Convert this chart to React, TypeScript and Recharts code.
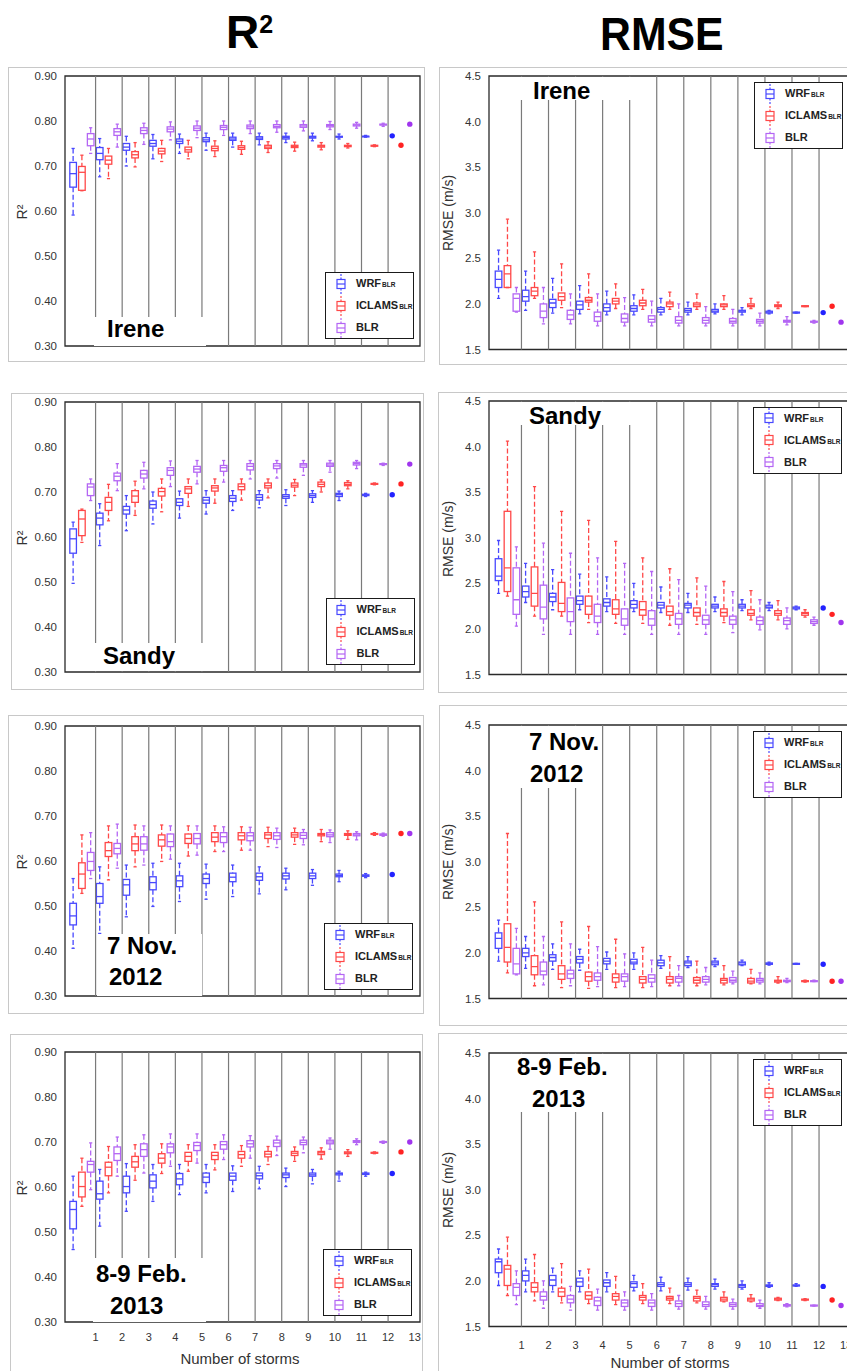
import React from 'react';
import { ComposedChart, Bar, XAxis, YAxis, ReferenceLine, ReferenceArea } from 'recharts';

type Stat = number[]; // [min, q1, median, q3, max]

const FONT = "'Liberation Sans', Arial, sans-serif";

// ---------- categories / ticks ----------
const SERIES_NAMES = ['WRF', 'ICLAMS', 'BLR'];
const SERIES_SUBS = ['BLR', 'BLR', ''];
const STORM_TICKS = [1, 2, 3, 4, 5, 6, 7, 8, 9, 10, 11, 12, 13];
const GROUP_DIVIDERS = [1, 2, 3, 4, 5, 6, 7, 8, 9, 10, 11, 12];
const R2_TICKS = [0.3, 0.4, 0.5, 0.6, 0.7, 0.8, 0.9];
const R2_MINOR = [0.30, 0.32, 0.34, 0.36, 0.38, 0.40, 0.42, 0.44, 0.46, 0.48, 0.50, 0.52, 0.54, 0.56, 0.58, 0.60, 0.62, 0.64, 0.66, 0.68, 0.70, 0.72, 0.74, 0.76, 0.78, 0.80, 0.82, 0.84, 0.86, 0.88, 0.90];
const RMSE_TICKS = [1.5, 2.0, 2.5, 3.0, 3.5, 4.0, 4.5];
const RMSE_MINOR = [1.5, 1.6, 1.7, 1.8, 1.9, 2.0, 2.1, 2.2, 2.3, 2.4, 2.5, 2.6, 2.7, 2.8, 2.9, 3.0, 3.1, 3.2, 3.3, 3.4, 3.5, 3.6, 3.7, 3.8, 3.9, 4.0, 4.1, 4.2, 4.3, 4.4, 4.5];

// ---------- data: [min, q1, median, q3, max] per storm-count group ----------
const IRENE_R2_WRF: Stat[] = [
  [0.591, 0.653, 0.683, 0.708, 0.739], [0.676, 0.714, 0.728, 0.741, 0.761], [0.700, 0.735, 0.742, 0.750, 0.766],
  [0.716, 0.744, 0.750, 0.757, 0.770], [0.728, 0.750, 0.755, 0.760, 0.771], [0.735, 0.754, 0.758, 0.763, 0.773],
  [0.742, 0.757, 0.760, 0.764, 0.773], [0.747, 0.759, 0.762, 0.765, 0.773], [0.752, 0.760, 0.763, 0.766, 0.773],
  [0.756, 0.762, 0.764, 0.766, 0.773], [0.760, 0.764, 0.765, 0.766, 0.771], [0.764, 0.765, 0.766, 0.766, 0.768],
  [0.767, 0.767, 0.767, 0.767, 0.767],
];
const IRENE_R2_ICLAMS: Stat[] = [
  [0.645, 0.646, 0.686, 0.699, 0.724], [0.672, 0.704, 0.713, 0.722, 0.739], [0.698, 0.718, 0.725, 0.732, 0.752],
  [0.710, 0.727, 0.733, 0.739, 0.757], [0.716, 0.731, 0.736, 0.742, 0.757], [0.721, 0.734, 0.739, 0.744, 0.756],
  [0.726, 0.737, 0.741, 0.745, 0.755], [0.730, 0.739, 0.742, 0.746, 0.754], [0.733, 0.741, 0.743, 0.746, 0.753],
  [0.736, 0.742, 0.744, 0.746, 0.752], [0.740, 0.743, 0.745, 0.746, 0.750], [0.743, 0.744, 0.745, 0.746, 0.747],
  [0.746, 0.746, 0.746, 0.746, 0.746],
];
const IRENE_R2_BLR: Stat[] = [
  [0.728, 0.745, 0.760, 0.772, 0.785], [0.742, 0.768, 0.776, 0.783, 0.793], [0.748, 0.772, 0.779, 0.785, 0.795],
  [0.758, 0.776, 0.782, 0.787, 0.798], [0.763, 0.779, 0.784, 0.789, 0.800], [0.768, 0.781, 0.786, 0.790, 0.800],
  [0.772, 0.783, 0.787, 0.791, 0.800], [0.775, 0.785, 0.788, 0.792, 0.800], [0.778, 0.786, 0.789, 0.792, 0.800],
  [0.781, 0.787, 0.790, 0.792, 0.799], [0.784, 0.789, 0.791, 0.793, 0.797], [0.788, 0.791, 0.792, 0.793, 0.795],
  [0.793, 0.793, 0.793, 0.793, 0.793],
];

const SANDY_R2_WRF: Stat[] = [
  [0.497, 0.564, 0.596, 0.618, 0.633], [0.581, 0.627, 0.642, 0.653, 0.674], [0.614, 0.651, 0.660, 0.668, 0.692],
  [0.629, 0.664, 0.672, 0.680, 0.700], [0.642, 0.670, 0.677, 0.685, 0.702], [0.651, 0.675, 0.682, 0.688, 0.703],
  [0.659, 0.679, 0.686, 0.692, 0.703], [0.665, 0.682, 0.688, 0.694, 0.703], [0.670, 0.686, 0.690, 0.694, 0.705],
  [0.677, 0.688, 0.692, 0.696, 0.703], [0.681, 0.690, 0.694, 0.697, 0.702], [0.690, 0.692, 0.694, 0.695, 0.697],
  [0.694, 0.694, 0.694, 0.694, 0.694],
];
const SANDY_R2_ICLAMS: Stat[] = [
  [0.588, 0.603, 0.640, 0.659, 0.662], [0.636, 0.659, 0.677, 0.688, 0.717], [0.648, 0.677, 0.691, 0.703, 0.724],
  [0.656, 0.691, 0.701, 0.708, 0.729], [0.668, 0.697, 0.707, 0.712, 0.729], [0.675, 0.702, 0.709, 0.714, 0.729],
  [0.682, 0.705, 0.712, 0.718, 0.729], [0.687, 0.709, 0.714, 0.720, 0.729], [0.692, 0.711, 0.715, 0.720, 0.728],
  [0.700, 0.712, 0.717, 0.722, 0.727], [0.707, 0.714, 0.717, 0.721, 0.725], [0.716, 0.717, 0.718, 0.719, 0.720],
  [0.718, 0.718, 0.718, 0.718, 0.718],
];
const SANDY_R2_BLR: Stat[] = [
  [0.681, 0.692, 0.711, 0.718, 0.729], [0.703, 0.725, 0.735, 0.742, 0.763], [0.707, 0.731, 0.740, 0.748, 0.766],
  [0.712, 0.737, 0.748, 0.754, 0.769], [0.718, 0.744, 0.751, 0.757, 0.770], [0.722, 0.746, 0.754, 0.759, 0.770],
  [0.729, 0.749, 0.757, 0.763, 0.770], [0.731, 0.752, 0.758, 0.763, 0.770], [0.737, 0.755, 0.760, 0.763, 0.770],
  [0.744, 0.757, 0.760, 0.764, 0.770], [0.752, 0.760, 0.763, 0.766, 0.770], [0.759, 0.761, 0.762, 0.763, 0.764],
  [0.762, 0.762, 0.762, 0.762, 0.762],
];

const NOV_R2_WRF: Stat[] = [
  [0.406, 0.458, 0.478, 0.506, 0.561], [0.439, 0.506, 0.521, 0.550, 0.587], [0.476, 0.524, 0.547, 0.559, 0.591],
  [0.499, 0.536, 0.552, 0.565, 0.595], [0.510, 0.543, 0.556, 0.567, 0.595], [0.515, 0.550, 0.561, 0.571, 0.593],
  [0.521, 0.554, 0.564, 0.573, 0.591], [0.527, 0.557, 0.565, 0.573, 0.587], [0.536, 0.560, 0.567, 0.573, 0.584],
  [0.546, 0.561, 0.567, 0.573, 0.581], [0.554, 0.565, 0.568, 0.571, 0.579], [0.563, 0.566, 0.568, 0.569, 0.572],
  [0.570, 0.570, 0.570, 0.570, 0.570],
];
const NOV_R2_ICLAMS: Stat[] = [
  [0.528, 0.539, 0.571, 0.596, 0.658], [0.558, 0.610, 0.623, 0.641, 0.678], [0.587, 0.623, 0.638, 0.654, 0.680],
  [0.599, 0.633, 0.647, 0.658, 0.680], [0.611, 0.639, 0.650, 0.660, 0.678], [0.621, 0.643, 0.653, 0.663, 0.678],
  [0.624, 0.647, 0.656, 0.663, 0.676], [0.632, 0.650, 0.658, 0.663, 0.675], [0.637, 0.653, 0.658, 0.663, 0.673],
  [0.643, 0.656, 0.659, 0.661, 0.670], [0.648, 0.657, 0.659, 0.661, 0.667], [0.657, 0.659, 0.660, 0.661, 0.663],
  [0.661, 0.661, 0.661, 0.661, 0.661],
];
const NOV_R2_BLR: Stat[] = [
  [0.561, 0.579, 0.599, 0.619, 0.663], [0.584, 0.616, 0.628, 0.639, 0.682], [0.591, 0.624, 0.638, 0.654, 0.678],
  [0.604, 0.632, 0.643, 0.660, 0.678], [0.613, 0.638, 0.650, 0.661, 0.678], [0.621, 0.641, 0.654, 0.663, 0.676],
  [0.624, 0.645, 0.656, 0.663, 0.675], [0.630, 0.648, 0.656, 0.663, 0.673], [0.636, 0.650, 0.657, 0.663, 0.670],
  [0.641, 0.654, 0.658, 0.663, 0.669], [0.647, 0.656, 0.658, 0.661, 0.665], [0.655, 0.657, 0.659, 0.660, 0.662],
  [0.661, 0.661, 0.661, 0.661, 0.661],
];

const FEB_R2_WRF: Stat[] = [
  [0.461, 0.507, 0.550, 0.568, 0.624], [0.513, 0.573, 0.585, 0.613, 0.639], [0.546, 0.587, 0.601, 0.624, 0.652],
  [0.568, 0.598, 0.613, 0.627, 0.650], [0.583, 0.605, 0.618, 0.630, 0.650], [0.587, 0.610, 0.622, 0.631, 0.650],
  [0.590, 0.615, 0.624, 0.631, 0.647], [0.596, 0.618, 0.625, 0.631, 0.646], [0.601, 0.621, 0.627, 0.631, 0.642],
  [0.607, 0.624, 0.627, 0.631, 0.639], [0.613, 0.627, 0.630, 0.631, 0.635], [0.624, 0.628, 0.629, 0.631, 0.633],
  [0.630, 0.630, 0.630, 0.630, 0.630],
];
const FEB_R2_ICLAMS: Stat[] = [
  [0.557, 0.578, 0.601, 0.633, 0.664], [0.587, 0.625, 0.644, 0.655, 0.690], [0.615, 0.644, 0.656, 0.668, 0.694],
  [0.630, 0.653, 0.664, 0.674, 0.696], [0.635, 0.657, 0.668, 0.677, 0.694], [0.638, 0.661, 0.670, 0.677, 0.694],
  [0.646, 0.664, 0.672, 0.679, 0.692], [0.650, 0.667, 0.673, 0.679, 0.690], [0.657, 0.670, 0.675, 0.679, 0.689],
  [0.662, 0.672, 0.676, 0.679, 0.687], [0.668, 0.674, 0.676, 0.678, 0.683], [0.674, 0.675, 0.676, 0.677, 0.678],
  [0.678, 0.678, 0.678, 0.678, 0.678],
];
const FEB_R2_BLR: Stat[] = [
  [0.594, 0.633, 0.650, 0.657, 0.698], [0.624, 0.659, 0.674, 0.689, 0.711], [0.631, 0.668, 0.683, 0.696, 0.716],
  [0.646, 0.676, 0.689, 0.696, 0.718], [0.653, 0.681, 0.692, 0.699, 0.718], [0.661, 0.684, 0.694, 0.701, 0.716],
  [0.664, 0.689, 0.696, 0.703, 0.714], [0.670, 0.690, 0.698, 0.704, 0.713], [0.676, 0.694, 0.699, 0.704, 0.711],
  [0.684, 0.696, 0.700, 0.704, 0.709], [0.694, 0.699, 0.701, 0.703, 0.707], [0.697, 0.699, 0.700, 0.701, 0.702],
  [0.700, 0.700, 0.700, 0.700, 0.700],
];

const IRENE_RMSE_WRF: Stat[] = [
  [2.06, 2.18, 2.27, 2.36, 2.59], [1.93, 2.03, 2.08, 2.15, 2.36], [1.90, 1.96, 2.01, 2.05, 2.28],
  [1.89, 1.94, 1.99, 2.03, 2.20], [1.88, 1.92, 1.96, 2.00, 2.14], [1.88, 1.92, 1.95, 1.98, 2.10],
  [1.88, 1.91, 1.94, 1.96, 2.06], [1.88, 1.91, 1.93, 1.95, 2.02], [1.89, 1.91, 1.92, 1.94, 2.00],
  [1.88, 1.91, 1.92, 1.93, 1.96], [1.89, 1.90, 1.91, 1.92, 1.93], [1.90, 1.90, 1.905, 1.91, 1.91],
  [1.905, 1.905, 1.905, 1.905, 1.905],
];
const IRENE_RMSE_ICLAMS: Stat[] = [
  [2.18, 2.18, 2.33, 2.42, 2.93], [2.06, 2.09, 2.14, 2.18, 2.57], [1.96, 2.04, 2.08, 2.12, 2.44],
  [1.94, 2.02, 2.04, 2.07, 2.33], [1.95, 2.00, 2.03, 2.06, 2.22], [1.94, 1.98, 2.01, 2.04, 2.16],
  [1.94, 1.97, 2.00, 2.02, 2.13], [1.94, 1.97, 1.99, 2.01, 2.11], [1.94, 1.97, 1.99, 2.00, 2.09],
  [1.95, 1.97, 1.98, 2.00, 2.06], [1.95, 1.97, 1.98, 1.99, 2.02], [1.97, 1.97, 1.975, 1.98, 1.98],
  [1.975, 1.975, 1.975, 1.975, 1.975],
];
const IRENE_RMSE_BLR: Stat[] = [
  [1.91, 1.92, 2.06, 2.11, 2.18], [1.78, 1.85, 1.92, 2.00, 2.18], [1.78, 1.83, 1.88, 1.93, 2.11],
  [1.76, 1.81, 1.86, 1.91, 2.11], [1.76, 1.80, 1.84, 1.89, 2.07], [1.76, 1.80, 1.83, 1.87, 2.03],
  [1.76, 1.79, 1.82, 1.86, 2.00], [1.76, 1.79, 1.82, 1.85, 1.97], [1.76, 1.79, 1.81, 1.84, 1.94],
  [1.76, 1.79, 1.81, 1.83, 1.90], [1.77, 1.80, 1.81, 1.82, 1.86], [1.79, 1.80, 1.80, 1.81, 1.82],
  [1.80, 1.80, 1.80, 1.80, 1.80],
];

const SANDY_RMSE_WRF: Stat[] = [
  [2.39, 2.53, 2.58, 2.77, 2.97], [2.29, 2.35, 2.41, 2.47, 2.72], [2.21, 2.30, 2.35, 2.39, 2.65],
  [2.21, 2.27, 2.31, 2.36, 2.60], [2.19, 2.25, 2.29, 2.33, 2.57], [2.19, 2.23, 2.27, 2.31, 2.50],
  [2.18, 2.23, 2.26, 2.29, 2.46], [2.18, 2.23, 2.26, 2.28, 2.39], [2.19, 2.23, 2.25, 2.27, 2.35],
  [2.20, 2.23, 2.25, 2.27, 2.32], [2.20, 2.23, 2.24, 2.26, 2.29], [2.21, 2.22, 2.23, 2.24, 2.25],
  [2.23, 2.23, 2.23, 2.23, 2.23],
];
const SANDY_RMSE_ICLAMS: Stat[] = [
  [2.36, 2.41, 2.67, 3.29, 4.06], [2.14, 2.25, 2.39, 2.68, 3.56], [2.14, 2.19, 2.28, 2.51, 3.29],
  [2.07, 2.16, 2.25, 2.36, 3.19], [2.06, 2.16, 2.22, 2.32, 2.96], [2.06, 2.15, 2.21, 2.30, 2.78],
  [2.04, 2.15, 2.19, 2.25, 2.66], [2.05, 2.14, 2.18, 2.23, 2.56], [2.07, 2.14, 2.18, 2.22, 2.52],
  [2.10, 2.15, 2.17, 2.21, 2.42], [2.10, 2.15, 2.17, 2.20, 2.31], [2.13, 2.15, 2.17, 2.18, 2.21],
  [2.16, 2.16, 2.16, 2.16, 2.16],
];
const SANDY_RMSE_BLR: Stat[] = [
  [2.03, 2.16, 2.32, 2.67, 2.90], [1.94, 2.11, 2.24, 2.48, 2.94], [1.94, 2.08, 2.19, 2.34, 2.83],
  [1.94, 2.07, 2.14, 2.27, 2.78], [1.94, 2.04, 2.11, 2.22, 2.72], [1.94, 2.04, 2.11, 2.20, 2.63],
  [1.94, 2.05, 2.11, 2.17, 2.54], [1.94, 2.05, 2.10, 2.15, 2.47], [1.96, 2.05, 2.10, 2.14, 2.41],
  [1.99, 2.05, 2.09, 2.13, 2.32], [2.00, 2.05, 2.09, 2.12, 2.23], [2.04, 2.06, 2.08, 2.10, 2.13],
  [2.07, 2.07, 2.07, 2.07, 2.07],
];

const NOV_RMSE_WRF: Stat[] = [
  [1.91, 2.05, 2.16, 2.22, 2.36], [1.83, 1.96, 2.00, 2.05, 2.18], [1.82, 1.91, 1.95, 1.98, 2.10],
  [1.81, 1.89, 1.93, 1.96, 2.04], [1.82, 1.88, 1.91, 1.94, 2.01], [1.82, 1.88, 1.90, 1.93, 2.00],
  [1.83, 1.86, 1.89, 1.92, 1.97], [1.84, 1.86, 1.89, 1.91, 1.96], [1.85, 1.87, 1.89, 1.91, 1.94],
  [1.86, 1.87, 1.89, 1.90, 1.92], [1.865, 1.875, 1.88, 1.89, 1.90], [1.875, 1.875, 1.88, 1.885, 1.885],
  [1.875, 1.875, 1.875, 1.875, 1.875],
];
const NOV_RMSE_ICLAMS: Stat[] = [
  [1.78, 1.90, 2.06, 2.32, 3.31], [1.64, 1.76, 1.85, 1.97, 2.56], [1.62, 1.71, 1.77, 1.86, 2.34],
  [1.61, 1.69, 1.74, 1.79, 2.29], [1.62, 1.68, 1.73, 1.77, 2.15], [1.62, 1.67, 1.71, 1.74, 2.06],
  [1.64, 1.67, 1.71, 1.74, 1.96], [1.64, 1.67, 1.70, 1.73, 1.91], [1.65, 1.67, 1.70, 1.72, 1.86],
  [1.66, 1.67, 1.69, 1.72, 1.82], [1.67, 1.68, 1.69, 1.70, 1.74], [1.68, 1.685, 1.69, 1.695, 1.70],
  [1.69, 1.69, 1.69, 1.69, 1.69],
];
const NOV_RMSE_BLR: Stat[] = [
  [1.76, 1.77, 1.88, 2.05, 2.27], [1.65, 1.76, 1.80, 1.90, 2.18], [1.64, 1.72, 1.77, 1.81, 2.10],
  [1.63, 1.70, 1.74, 1.78, 2.07], [1.63, 1.69, 1.74, 1.77, 1.99], [1.63, 1.68, 1.72, 1.76, 1.92],
  [1.64, 1.68, 1.72, 1.74, 1.86], [1.65, 1.68, 1.71, 1.74, 1.84], [1.66, 1.68, 1.70, 1.73, 1.80],
  [1.66, 1.68, 1.70, 1.72, 1.78], [1.675, 1.685, 1.69, 1.70, 1.72], [1.685, 1.685, 1.69, 1.695, 1.70],
  [1.69, 1.69, 1.69, 1.69, 1.69],
];

const FEB_RMSE_WRF: Stat[] = [
  [1.95, 2.09, 2.21, 2.24, 2.35], [1.88, 2.00, 2.06, 2.11, 2.24], [1.88, 1.95, 2.01, 2.06, 2.14],
  [1.88, 1.94, 1.99, 2.03, 2.11], [1.88, 1.94, 1.98, 2.01, 2.09], [1.89, 1.93, 1.97, 1.99, 2.06],
  [1.89, 1.94, 1.96, 1.98, 2.04], [1.90, 1.94, 1.96, 1.98, 2.03], [1.91, 1.94, 1.96, 1.97, 2.02],
  [1.91, 1.93, 1.95, 1.96, 2.00], [1.93, 1.94, 1.95, 1.955, 1.98], [1.94, 1.945, 1.95, 1.955, 1.97],
  [1.94, 1.94, 1.94, 1.94, 1.94],
];
const FEB_RMSE_ICLAMS: Stat[] = [
  [1.84, 1.95, 2.13, 2.17, 2.48], [1.78, 1.88, 1.93, 1.98, 2.29], [1.76, 1.83, 1.88, 1.92, 2.19],
  [1.75, 1.80, 1.84, 1.88, 2.13], [1.74, 1.79, 1.83, 1.86, 2.05], [1.75, 1.79, 1.82, 1.84, 1.97],
  [1.75, 1.79, 1.81, 1.83, 1.92], [1.76, 1.78, 1.81, 1.83, 1.90], [1.77, 1.78, 1.80, 1.82, 1.88],
  [1.77, 1.78, 1.80, 1.81, 1.85], [1.785, 1.79, 1.80, 1.81, 1.82], [1.785, 1.79, 1.795, 1.80, 1.805],
  [1.79, 1.79, 1.79, 1.79, 1.79],
];
const FEB_RMSE_BLR: Stat[] = [
  [1.74, 1.84, 1.93, 1.97, 2.11], [1.70, 1.79, 1.83, 1.88, 2.00], [1.68, 1.76, 1.80, 1.84, 1.94],
  [1.68, 1.73, 1.78, 1.82, 1.91], [1.68, 1.72, 1.76, 1.79, 1.88], [1.68, 1.72, 1.76, 1.79, 1.86],
  [1.69, 1.72, 1.75, 1.78, 1.84], [1.69, 1.72, 1.74, 1.77, 1.83], [1.69, 1.72, 1.74, 1.76, 1.80],
  [1.70, 1.72, 1.73, 1.75, 1.79], [1.715, 1.725, 1.73, 1.74, 1.75], [1.725, 1.725, 1.73, 1.735, 1.735],
  [1.73, 1.73, 1.73, 1.73, 1.73],
];

// ---------- styling / layout ----------
const SERIES_OFFSET = [0.17, 0.5, 0.83];
const BOX_STROKE = ['#4848ff', '#ff4848', '#b466f4'];
const DOT_FILL = ['#2222ff', '#ff2222', '#a035ee'];
const AXIS_W = 50;
const MT = 5;
const MR = 5;
const XH = 30;

const METRICS: Record<string, any> = {
  r2: { domain: [0.3, 0.9], ticks: R2_TICKS, minor: R2_MINOR, digits: 2, title: 'R²' },
  rmse: { domain: [1.5, 4.5], ticks: RMSE_TICKS, minor: RMSE_MINOR, digits: 1, title: 'RMSE (m/s)' },
};

type Line = { text: string; x: number; y: number };
type PanelCfg = {
  key: string; metric: 'r2' | 'rmse'; series: Stat[][];
  plotLeft: number; plotTop: number; plotW: number; plotH: number; xDomain: number[];
  showX: boolean; tickMargin: number; xTitle?: number[];
  frame: number[]; legend: number[]; yTitleX: number;
  labelBox: number[]; labelLines: Line[];
};

const LEFT = { plotLeft: 65, plotW: 355, plotH: 270, xDomain: [-0.15, 13.2], yTitleX: 21.5 };
const RIGHT = { plotLeft: 488.5, plotW: 362.5, plotH: 273.5, xDomain: [-0.2, 13.2], yTitleX: 448 };

const PANELS: PanelCfg[] = [
  { key: 'irene-r2', metric: 'r2', series: [IRENE_R2_WRF, IRENE_R2_ICLAMS, IRENE_R2_BLR], ...LEFT, plotTop: 76,
    showX: false, tickMargin: 11, frame: [8, 67, 425, 362], legend: [325, 272],
    labelBox: [94, 317, 112, 28.5], labelLines: [{ text: 'Irene', x: 107, y: 320 }] },
  { key: 'sandy-r2', metric: 'r2', series: [SANDY_R2_WRF, SANDY_R2_ICLAMS, SANDY_R2_BLR], ...LEFT, plotTop: 401.5,
    showX: false, tickMargin: 11, frame: [11, 393, 424, 690], legend: [325.5, 598],
    labelBox: [94, 643, 112, 27.5], labelLines: [{ text: 'Sandy', x: 103, y: 647 }] },
  { key: 'nov-r2', metric: 'r2', series: [NOV_R2_WRF, NOV_R2_ICLAMS, NOV_R2_BLR], ...LEFT, plotTop: 726,
    showX: false, tickMargin: 11, frame: [8, 715, 424, 1014], legend: [324, 923],
    labelBox: [97, 934, 105, 61.5], labelLines: [{ text: '7 Nov.', x: 107, y: 937 }, { text: '2012', x: 109, y: 968 }] },
  { key: 'feb-r2', metric: 'r2', series: [FEB_R2_WRF, FEB_R2_ICLAMS, FEB_R2_BLR], ...LEFT, plotTop: 1052.3,
    showX: true, tickMargin: 11, xTitle: [240, 1358], frame: [10, 1034, 423, 1400], legend: [323, 1249],
    labelBox: [93, 1258, 113, 63.5], labelLines: [{ text: '8-9 Feb.', x: 96, y: 1265 }, { text: '2013', x: 110, y: 1297 }] },
  { key: 'irene-rmse', metric: 'rmse', series: [IRENE_RMSE_WRF, IRENE_RMSE_ICLAMS, IRENE_RMSE_BLR], ...RIGHT, plotTop: 75.7,
    showX: false, tickMargin: 15, frame: [439, 67, 900, 365], legend: [754, 82.3],
    labelBox: [519, 76.5, 114, 23.5], labelLines: [{ text: 'Irene', x: 533, y: 82 }] },
  { key: 'sandy-rmse', metric: 'rmse', series: [SANDY_RMSE_WRF, SANDY_RMSE_ICLAMS, SANDY_RMSE_BLR], ...RIGHT, plotTop: 400.8,
    showX: false, tickMargin: 15, frame: [438, 392, 900, 693], legend: [753, 406.7],
    labelBox: [519, 401.5, 114, 23], labelLines: [{ text: 'Sandy', x: 529, y: 407 }] },
  { key: 'nov-rmse', metric: 'rmse', series: [NOV_RMSE_WRF, NOV_RMSE_ICLAMS, NOV_RMSE_BLR], ...RIGHT, plotTop: 724.5,
    showX: false, tickMargin: 15, frame: [438.5, 705, 900, 1026], legend: [753, 731],
    labelBox: [519, 725.5, 83, 62], labelLines: [{ text: '7 Nov.', x: 529, y: 733 }, { text: '2012', x: 530, y: 765 }] },
  { key: 'feb-rmse', metric: 'rmse', series: [FEB_RMSE_WRF, FEB_RMSE_ICLAMS, FEB_RMSE_BLR], ...RIGHT, plotTop: 1052.6,
    showX: true, tickMargin: 15, xTitle: [670, 1362], frame: [437.5, 1033, 900, 1400], legend: [753, 1059],
    labelBox: [512, 1053.5, 96, 58], labelLines: [{ text: '8-9 Feb.', x: 517, y: 1058 }, { text: '2013', x: 532, y: 1090 }] },
];

function buildRows(series: Stat[][]) {
  const rows: any[] = [];
  series.forEach((stats, s) => {
    stats.forEach((st, g) => {
      rows.push({ x: g + SERIES_OFFSET[s], s, min: st[0], q1: st[1], med: st[2], q3: st[3], max: st[4] });
    });
  });
  return rows;
}

const rangeKey = (r: any) => [r.min, r.max];

function BoxShape(props: any) {
  const { x, y, width, height, payload } = props;
  if (!payload || x == null || y == null || isNaN(x) || isNaN(y)) return <g />;
  const cx = x + (width || 0) / 2;
  const h = height || 0;
  const top = Math.min(y, y + h);
  const bottom = Math.max(y, y + h);
  const span = payload.max - payload.min;
  const s = payload.s;
  if (!(span > 0)) {
    return <circle cx={cx} cy={top} r={2.7} fill={DOT_FILL[s]} />;
  }
  const py = (v: number) => top + ((payload.max - v) / span) * (bottom - top);
  const hw = 3.3;
  const cap = 1.6;
  const yMax = py(payload.max);
  const yQ3 = py(payload.q3);
  const yMed = py(payload.med);
  const yQ1 = py(payload.q1);
  const yMin = py(payload.min);
  return (
    <g stroke={BOX_STROKE[s]} strokeWidth={1.3} fill="none">
      {yQ3 - yMax > 0.6 && <line x1={cx} x2={cx} y1={yMax} y2={yQ3} strokeDasharray="5 2.5" />}
      {yMin - yQ1 > 0.6 && <line x1={cx} x2={cx} y1={yQ1} y2={yMin} strokeDasharray="5 2.5" />}
      <line x1={cx - cap} x2={cx + cap} y1={yMax} y2={yMax} />
      <line x1={cx - cap} x2={cx + cap} y1={yMin} y2={yMin} />
      <rect x={cx - hw} y={yQ3} width={hw * 2} height={Math.max(yQ1 - yQ3, 0.6)} />
      <line x1={cx - hw} x2={cx + hw} y1={yMed} y2={yMed} />
    </g>
  );
}

function Panel({ cfg }: { cfg: PanelCfg }) {
  const m = METRICS[cfg.metric];
  const rows = buildRows(cfg.series);
  const chartW = AXIS_W + cfg.plotW + MR;
  const chartH = MT + cfg.plotH + XH;
  const tickStyle = { fontSize: 11.5, fill: '#333', fontFamily: FONT };
  return (
    <div style={{ position: 'absolute', left: cfg.plotLeft - AXIS_W, top: cfg.plotTop - MT }}>
      <ComposedChart width={chartW} height={chartH} data={rows} margin={{ top: MT, right: MR, bottom: 0, left: 0 }}>
        <XAxis
          type="number" dataKey="x" domain={cfg.xDomain} allowDataOverflow ticks={STORM_TICKS} interval={0}
          height={XH} tickLine={false} axisLine={false} tickSize={0} tickMargin={cfg.tickMargin}
          tick={cfg.showX ? { fontSize: 11, fill: '#333', fontFamily: FONT } : false}
        />
        <YAxis
          yAxisId="v" type="number" domain={m.domain} allowDataOverflow ticks={m.ticks} interval={0}
          width={AXIS_W} tickLine={false} axisLine={false} tickSize={0} tickMargin={8}
          tickFormatter={(v: number) => v.toFixed(m.digits)} tick={tickStyle}
        />
        <YAxis
          yAxisId="lm" orientation="left" mirror type="number" domain={m.domain} allowDataOverflow
          ticks={m.minor} interval={0} tick={false} tickSize={3} axisLine={false} tickLine={{ stroke: '#333' }}
        />
        <YAxis
          yAxisId="rm" orientation="right" mirror type="number" domain={m.domain} allowDataOverflow
          ticks={m.minor} interval={0} tick={false} tickSize={3} axisLine={false} tickLine={{ stroke: '#333' }}
        />
        {GROUP_DIVIDERS.map((k) => (
          <ReferenceLine key={k} yAxisId="v" x={k} stroke="#7a7a7a" strokeWidth={1.2} />
        ))}
        <ReferenceArea
          yAxisId="v" x1={cfg.xDomain[0]} x2={cfg.xDomain[1]} y1={m.domain[0]} y2={m.domain[1]}
          fill="none" fillOpacity={0} stroke="#2a2a2a" strokeWidth={1.3} strokeOpacity={1}
        />
        <Bar yAxisId="v" dataKey={rangeKey} barSize={8} shape={BoxShape} isAnimationActive={false} />
      </ComposedChart>
    </div>
  );
}

function LegendBox({ left, top }: { left: number; top: number }) {
  return (
    <div style={{ position: 'absolute', left, top, width: 89, height: 67, border: '1.5px solid #1a1a1a', boxSizing: 'border-box', background: '#fff' }}>
      {SERIES_NAMES.map((name, i) => (
        <React.Fragment key={name}>
          <svg width={12} height={22} style={{ position: 'absolute', left: 8.5, top: -0.5 + i * 22 }}>
            <g stroke={BOX_STROKE[i]} strokeWidth={1.2} fill="none">
              <line x1={6} x2={6} y1={1} y2={6.5} strokeDasharray="2 1.5" />
              <rect x={2} y={6.5} width={8} height={9} />
              <line x1={2} x2={10} y1={11} y2={11} />
              <line x1={6} x2={6} y1={15.5} y2={21} strokeDasharray="2 1.5" />
            </g>
          </svg>
          <div style={{ position: 'absolute', left: 30, top: 5 + i * 22, fontFamily: FONT, fontWeight: 'bold', fontSize: 11, lineHeight: 1, color: '#222', whiteSpace: 'nowrap' }}>
            {name}
            <span style={{ fontSize: 6.5, marginLeft: 1 }}>{SERIES_SUBS[i]}</span>
          </div>
        </React.Fragment>
      ))}
    </div>
  );
}

function StormLabel({ box, lines }: { box: number[]; lines: Line[] }) {
  return (
    <div style={{ position: 'absolute', left: box[0], top: box[1], width: box[2], height: box[3], background: '#fff' }}>
      {lines.map((l) => (
        <div key={l.text} style={{ position: 'absolute', left: l.x - box[0], top: l.y - box[1] - 3, fontFamily: FONT, fontWeight: 'bold', fontSize: 24, lineHeight: 1, color: '#000', whiteSpace: 'nowrap' }}>
          {l.text}
        </div>
      ))}
    </div>
  );
}

export default function App() {
  return (
    <div style={{ position: 'fixed', left: 0, top: 0, width: 847, height: 1371, overflow: 'hidden', background: '#fff', fontFamily: FONT }}>
      {/* column titles */}
      <div style={{ position: 'absolute', left: 226, top: 9, fontFamily: FONT, fontWeight: 'bold', fontSize: 46, lineHeight: 1, color: '#000', whiteSpace: 'nowrap' }}>
        R<span style={{ fontSize: 25, verticalAlign: 'top', position: 'relative', top: 2.7 }}>2</span>
      </div>
      <div style={{ position: 'absolute', left: 600, top: 11, fontFamily: FONT, fontWeight: 'bold', fontSize: 46, lineHeight: 1, color: '#000', transform: 'scaleX(0.93)', transformOrigin: 'left top', whiteSpace: 'nowrap' }}>
        RMSE
      </div>

      {PANELS.map((p) => (
        <div key={p.key + '-frame'} style={{ position: 'absolute', left: p.frame[0], top: p.frame[1], width: p.frame[2] - p.frame[0], height: p.frame[3] - p.frame[1], border: '1px solid #c8c8c8', boxSizing: 'border-box' }} />
      ))}

      {PANELS.map((p) => (
        <Panel key={p.key} cfg={p} />
      ))}

      {PANELS.map((p) => (
        <div key={p.key + '-ytitle'} style={{ position: 'absolute', left: p.yTitleX, top: p.plotTop + p.plotH / 2 + 1, transform: 'translate(-50%, -50%) rotate(-90deg)', fontFamily: FONT, fontSize: 14, color: '#333', whiteSpace: 'nowrap', lineHeight: 1 }}>
          {METRICS[p.metric].title}
        </div>
      ))}

      {PANELS.map((p) => (
        <StormLabel key={p.key + '-label'} box={p.labelBox} lines={p.labelLines} />
      ))}

      {PANELS.map((p) => (
        <LegendBox key={p.key + '-legend'} left={p.legend[0]} top={p.legend[1]} />
      ))}

      {PANELS.filter((p) => p.xTitle).map((p) => (
        <div key={p.key + '-xtitle'} style={{ position: 'absolute', left: p.xTitle![0], top: p.xTitle![1], transform: 'translate(-50%, -50%)', fontFamily: FONT, fontSize: 15, color: '#333', whiteSpace: 'nowrap', lineHeight: 1 }}>
          Number of storms
        </div>
      ))}
    </div>
  );
}
